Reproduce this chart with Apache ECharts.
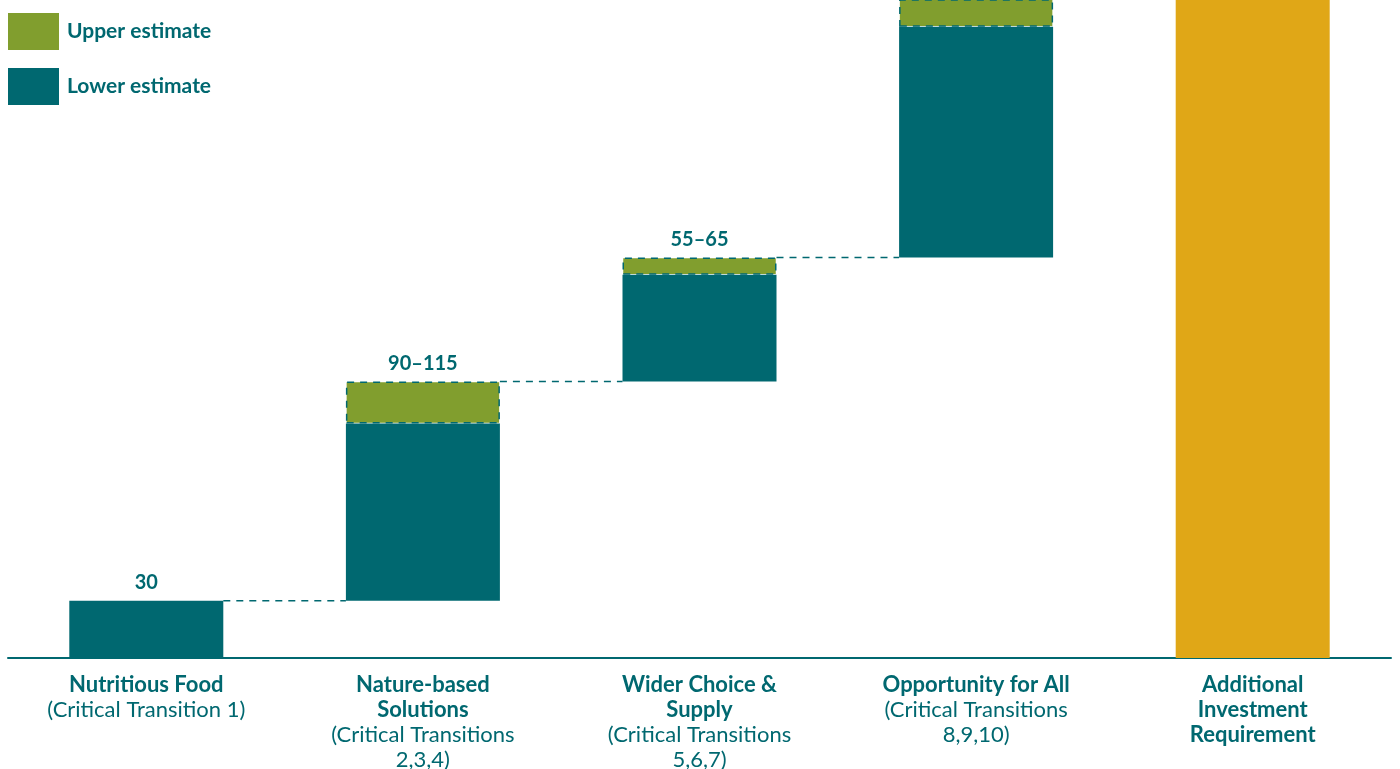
<!DOCTYPE html>
<html>
<head>
<meta charset="utf-8">
<script src="https://cdn.jsdelivr.net/npm/echarts@6/dist/echarts.min.js"></script>
<style>
  html, body { margin: 0; padding: 0; background: #fff; }
  #chart { width: 1400px; height: 769px; }
</style>
</head>
<body>
<div id="chart"></div>
<script>
// categories: bold title lines + regular subtitle lines
const titles = [
  ['Nutritious Food'],
  ['Nature-based', 'Solutions'],
  ['Wider Choice &', 'Supply'],
  ['Opportunity for All'],
  ['Additional', 'Investment', 'Requirement']
]
const subtitles = [
  ['(Critical Transition 1)'],
  ['(Critical Transitions', '2,3,4)'],
  ['(Critical Transitions', '5,6,7)'],
  ['(Critical Transitions', '8,9,10)'],
  []
]
// waterfall pieces
const baseValues = [0, 30, 145, 210, '-']
const lowerValues = [30, 93, 56, 121, '-']
const upperValues = [0, 22, 9, 150, '-']
const totalValues = ['-', '-', '-', '-', 380]
const rangeLabels = ['30', '90–115', '55–65', '', '']
// connector levels: [from category, level]
const connectors = [[0, 30], [1, 145], [2, 210]]

const TEAL = '#006870'
const GREEN = '#819e2e'
const GOLD = '#e0a717'
const FONT = 'Lato'
const BAR_W = 154

const categories = titles.map((t, i) => i.toString())

const chart = echarts.init(document.getElementById('chart'))

chart.setOption({
  animation: false,
  textStyle: { fontFamily: FONT },
  legend: {
    orient: 'vertical',
    left: 8,
    top: 13,
    padding: 0,
    itemWidth: 51,
    itemHeight: 37,
    itemGap: 18,
    selectedMode: false,
    textStyle: { color: TEAL, fontSize: 21, fontWeight: 'bold', fontFamily: FONT, padding: [0, 0, 0, 3] },
    data: [
      { name: 'Upper estimate', icon: 'rect', itemStyle: { borderWidth: 0 } },
      { name: 'Lower estimate', icon: 'rect' }
    ]
  },
  grid: { left: 8, right: 9, top: 0, bottom: 111, outerBoundsMode: 'none', containLabel: false },
  xAxis: {
    type: 'category',
    data: categories,
    axisLine: { lineStyle: { color: TEAL, width: 2 } },
    axisTick: { show: false },
    axisLabel: {
      interval: 0,
      margin: 14,
      verticalAlign: 'top',
      formatter: (v) => {
        const i = +v
        const lines = titles[i].map(t => '{b|' + t + '}').concat(subtitles[i].map(s => '{r|' + s + '}'))
        return lines.join('\n')
      },
      rich: {
        b: { fontFamily: FONT, fontSize: 22, fontWeight: 'bold', color: TEAL, lineHeight: 25, align: 'center' },
        r: { fontFamily: FONT, fontSize: 22, color: TEAL, lineHeight: 25, align: 'center' }
      }
    }
  },
  yAxis: {
    type: 'value',
    min: 0,
    max: 345,
    show: false,
    splitLine: { show: false }
  },
  series: [
    {
      name: 'base',
      type: 'bar',
      stack: 'w',
      barWidth: BAR_W,
      silent: true,
      itemStyle: { color: 'transparent' },
      data: baseValues
    },
    {
      name: 'Lower estimate',
      type: 'bar',
      stack: 'w',
      barWidth: BAR_W,
      itemStyle: { color: TEAL },
      data: lowerValues
    },
    {
      name: 'Upper estimate',
      type: 'bar',
      stack: 'w',
      barWidth: BAR_W,
      itemStyle: {
        color: GREEN,
        borderColor: TEAL,
        borderWidth: 1.5,
        borderType: [7, 6]
      },
      label: {
        show: true,
        position: 'top',
        distance: 8,
        color: TEAL,
        fontSize: 20,
        fontWeight: 'bold',
        fontFamily: FONT,
        formatter: (p) => rangeLabels[p.dataIndex]
      },
      data: upperValues.map((v, i) => i === 0 ? { value: v, itemStyle: { borderWidth: 0, color: 'transparent' } } : v)
    },
    {
      name: 'Additional',
      type: 'bar',
      stack: 'w',
      barWidth: BAR_W,
      itemStyle: { color: GOLD },
      data: totalValues
    },
    {
      name: 'connectors',
      type: 'custom',
      silent: true,
      z: 1,
      data: connectors,
      renderItem: (params, api) => {
        const p = api.coord([api.value(0), api.value(1)])
        const band = api.size([1, 0])[0]
        const x1 = p[0] + BAR_W / 2
        const x2 = p[0] + band - BAR_W / 2
        return {
          type: 'line',
          shape: { x1: x1, y1: p[1], x2: x2, y2: p[1] },
          style: { stroke: TEAL, lineWidth: 1.5, lineDash: [7, 6] }
        }
      }
    }
  ]
})
</script>
</body>
</html>
